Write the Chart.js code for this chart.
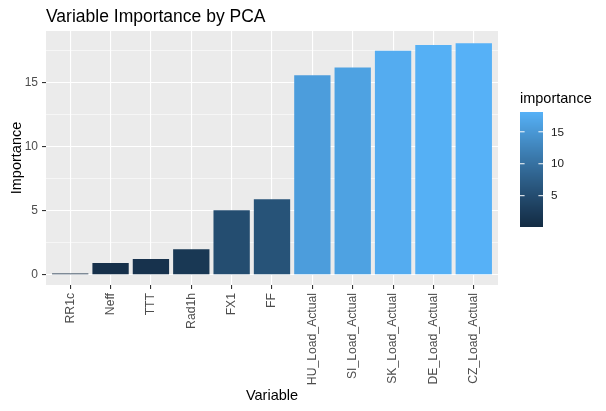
<!DOCTYPE html>
<html><head><meta charset="utf-8">
<script src="https://cdn.jsdelivr.net/npm/chart.js@4"></script>
<style>html,body{margin:0;padding:0;background:#fff;overflow:hidden}canvas{display:block}</style>
</head><body>
<canvas id="c" width="606" height="411"></canvas>
<script>
const categories = ['RR1c','Neff','TTT','Rad1h','FX1','FF','HU_Load_Actual','SI_Load_Actual','SK_Load_Actual','DE_Load_Actual','CZ_Load_Actual'];
const importance = [0.1, 0.91, 1.23, 2.0, 5.05, 5.9, 15.6, 16.2, 17.5, 17.95, 18.1];
const yMajorTicks = [0, 5, 10, 15];
const yMinorTicks = [2.5, 7.5, 12.5, 17.5];
const legendTicks = [5, 10, 15];
const titleText = 'Variable Importance by PCA';
const xTitle = 'Variable';
const yTitle = 'Importance';
const legendTitle = 'importance';
const lowColor = '#132B43';
const highColor = '#56B1F7';

const FONT = '"Liberation Sans", Arial, sans-serif';

// --- Lab colour interpolation (like ggplot2 scale_fill_gradient) ---
function hexToRgb(h){h=h.replace('#','');return [0,2,4].map(i=>parseInt(h.substr(i,2),16)/255);}
function toLin(c){return c<=0.04045?c/12.92:Math.pow((c+0.055)/1.055,2.4);}
function fromLin(c){return c<=0.0031308?12.92*c:1.055*Math.pow(c,1/2.4)-0.055;}
const WX=0.95047, WY=1.0, WZ=1.08883;
function f(t){return t>216/24389?Math.cbrt(t):(24389/27*t+16)/116;}
function finv(t){const t3=t*t*t;return t3>216/24389?t3:(116*t-16)/(24389/27);}
function rgbToLab(rgb){
  const [r,g,b]=rgb.map(toLin);
  const X=0.4124564*r+0.3575761*g+0.1804375*b;
  const Y=0.2126729*r+0.7151522*g+0.0721750*b;
  const Z=0.0193339*r+0.1191920*g+0.9503041*b;
  const fx=f(X/WX), fy=f(Y/WY), fz=f(Z/WZ);
  return [116*fy-16, 500*(fx-fy), 200*(fy-fz)];
}
function labToRgb(lab){
  const [L,a,b]=lab;
  const fy=(L+16)/116, fx=fy+a/500, fz=fy-b/200;
  const X=WX*finv(fx), Y=WY*finv(fy), Z=WZ*finv(fz);
  let r= 3.2404542*X-1.5371385*Y-0.4985314*Z;
  let g=-0.9692660*X+1.8760108*Y+0.0415560*Z;
  let bb=0.0556434*X-0.2040259*Y+1.0572252*Z;
  return [r,g,bb].map(c=>Math.round(Math.min(1,Math.max(0,fromLin(c)))*255));
}
const labLow=rgbToLab(hexToRgb(lowColor)), labHigh=rgbToLab(hexToRgb(highColor));
function gradColor(t){
  t=Math.min(1,Math.max(0,t));
  const lab=labLow.map((v,i)=>v+(labHigh[i]-v)*t);
  const [r,g,b]=labToRgb(lab);
  return `rgb(${r},${g},${b})`;
}
const vMin=Math.min(...importance), vMax=Math.max(...importance);
const barColors=importance.map(v=>gradColor((v-vMin)/(vMax-vMin)));

const panelPlugin={
  id:'panel',
  beforeDraw(chart){
    const {ctx,chartArea:a}=chart;
    ctx.save();
    ctx.fillStyle='#FFFFFF';ctx.fillRect(0,0,chart.width,chart.height);
    ctx.fillStyle='#EBEBEB';ctx.fillRect(a.left,a.top,a.right-a.left,a.bottom-a.top);
    ctx.restore();
  },
  afterDraw(chart){
    const {ctx,chartArea:a}=chart;
    ctx.save();
    // title
    ctx.fillStyle='#000';
    ctx.font=`17.5px ${FONT}`;
    ctx.textAlign='left';ctx.textBaseline='alphabetic';
    ctx.fillText(titleText,a.left,22);
    // legend
    const lx=520,lw=23,ltop=112,lbot=227;
    for(let y=ltop;y<lbot;y++){
      const t=(lbot-(y+0.5))/(lbot-ltop);
      ctx.fillStyle=gradColor(t);
      ctx.fillRect(lx,y,lw,1);
    }
    ctx.strokeStyle='#FFFFFF';ctx.lineWidth=1;
    ctx.font=`11.7px ${FONT}`;ctx.textBaseline='middle';
    legendTicks.forEach(v=>{
      const y=lbot-(v-vMin)/(vMax-vMin)*(lbot-ltop);
      ctx.beginPath();
      ctx.moveTo(lx,y);ctx.lineTo(lx+4.6,y);
      ctx.moveTo(lx+lw-4.6,y);ctx.lineTo(lx+lw,y);
      ctx.stroke();
      ctx.fillStyle='#1A1A1A';
      ctx.fillText(String(v),lx+lw+8,y+0.5);
    });
    ctx.fillStyle='#000';
    ctx.font=`14.5px ${FONT}`;ctx.textBaseline='alphabetic';
    ctx.fillText(legendTitle,lx,103);
    ctx.restore();
  }
};

new Chart(document.getElementById('c'),{
  type:'bar',
  data:{
    datasets:[{
      data:importance.map((v,i)=>({x:i+1,y:v})),
      backgroundColor:barColors,
      borderWidth:0,
      barPercentage:0.9,
      categoryPercentage:1.0
    }]
  },
  options:{
    responsive:false,
    animation:false,
    devicePixelRatio:1,
    layout:{padding:{left:0,top:31,right:108,bottom:0}},
    plugins:{legend:{display:false},title:{display:false},tooltip:{enabled:false}},
    scales:{
      x:{
        type:'linear',min:0.4,max:11.6,offset:false,
        afterBuildTicks:s=>{s.ticks=categories.map((c,i)=>({value:i+1}));},
        afterFit:s=>{s.height=126;},
        ticks:{autoSkip:false,maxRotation:90,minRotation:90,padding:4,
          callback:v=>categories[Math.round(v)-1],
          color:'#4D4D4D',font:{family:FONT,size:12.2}},
        grid:{offset:false,color:'#FFFFFF',lineWidth:1.1,tickColor:'#333333',tickLength:4,tickWidth:1.1},
        border:{display:false},
        title:{display:true,text:xTitle,color:'#000',font:{family:FONT,size:14.5},padding:{top:0,bottom:6}}
      },
      y:{
        min:-0.8,max:19.05,
        afterBuildTicks:s=>{s.ticks=[...yMajorTicks,...yMinorTicks].sort((a,b)=>a-b).map(v=>({value:v}));},
        afterFit:s=>{s.width=46;},
        ticks:{padding:4,color:'#4D4D4D',font:{family:FONT,size:12},
          callback:v=>yMajorTicks.includes(v)?String(v):''},
        grid:{color:'#FFFFFF',
          lineWidth:c=>(c.tick&&yMajorTicks.includes(c.tick.value))?1.1:0.55,
          tickColor:c=>(c.tick&&yMajorTicks.includes(c.tick.value))?'#333333':'rgba(0,0,0,0)',
          tickWidth:1.1,tickLength:4},
        border:{display:false},
        title:{display:true,text:yTitle,color:'#000',font:{family:FONT,size:14.5},padding:{top:8,bottom:0}}
      }
    }
  },
  plugins:[panelPlugin]
});
</script>
</body></html>
